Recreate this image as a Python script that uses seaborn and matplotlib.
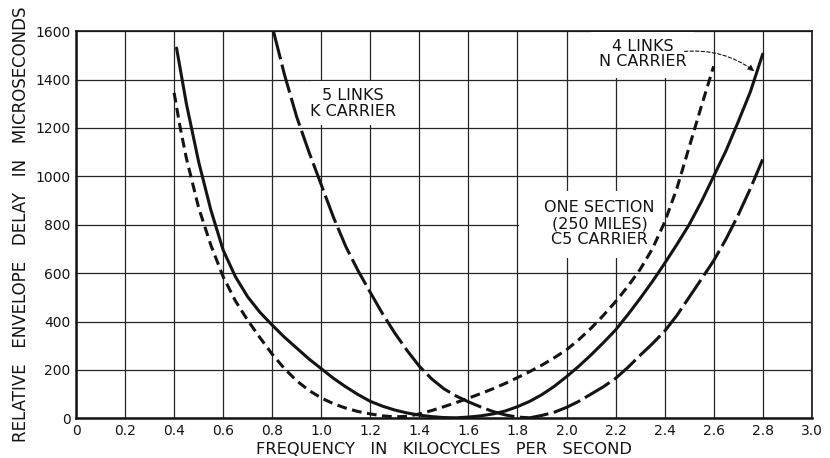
import matplotlib
matplotlib.use("Agg")
import matplotlib.pyplot as plt
import seaborn as sns
import pandas as pd
from matplotlib.patches import Rectangle

# ---- data ----
x_ticks = [0, 0.2, 0.4, 0.6, 0.8, 1.0, 1.2, 1.4, 1.6, 1.8, 2.0, 2.2, 2.4, 2.6, 2.8, 3.0]
x_tick_labels = ["0", "0.2", "0.4", "0.6", "0.8", "1.0", "1.2", "1.4", "1.6", "1.8",
                 "2.0", "2.2", "2.4", "2.6", "2.8", "3.0"]
y_ticks = [0, 200, 400, 600, 800, 1000, 1200, 1400, 1600]
y_tick_labels = ["0", "200", "400", "600", "800", "1000", "1200", "1400", "1600"]

# 4 LINKS, N CARRIER (solid)
n_freq = [0.41, 0.45, 0.5, 0.55, 0.6, 0.65, 0.7, 0.75, 0.8, 0.85, 0.9, 0.95, 1.0, 1.05,
          1.1, 1.15, 1.2, 1.25, 1.3, 1.35, 1.4, 1.45, 1.5, 1.55, 1.6, 1.65, 1.7, 1.75,
          1.8, 1.85, 1.9, 1.95, 2.0, 2.05, 2.1, 2.15, 2.2, 2.25, 2.3, 2.35, 2.4, 2.45,
          2.5, 2.55, 2.6, 2.65, 2.7, 2.75, 2.8]
n_delay = [1530, 1300, 1060, 860, 695, 585, 502, 438, 385, 335, 290, 245, 205, 165,
           130, 98, 70, 50, 34, 22, 13, 7, 3, 2, 5, 10, 18, 30,
           48, 70, 98, 132, 172, 215, 262, 312, 365, 428, 495, 565, 640, 718,
           800, 895, 1000, 1105, 1225, 1350, 1505]

# ONE SECTION (250 MILES), C5 CARRIER (short dashes)
c5_freq = [0.40, 0.425, 0.45, 0.5, 0.55, 0.6, 0.65, 0.7, 0.75, 0.8, 0.85, 0.9, 0.95,
           1.0, 1.05, 1.1, 1.15, 1.2, 1.25, 1.3, 1.35, 1.4, 1.45, 1.5, 1.55, 1.6, 1.65,
           1.7, 1.75, 1.8, 1.85, 1.9, 1.95, 2.0, 2.05, 2.1, 2.15, 2.2, 2.25, 2.3, 2.35,
           2.4, 2.45, 2.5, 2.55, 2.6]
c5_delay = [1345, 1200, 1075, 870, 715, 585, 485, 405, 333, 265, 205, 155, 115,
            84, 60, 42, 28, 18, 10, 6, 8, 18, 32, 48, 65, 83, 102,
            122, 144, 168, 193, 220, 250, 283, 325, 372, 425, 482, 545, 615, 700,
            810, 950, 1120, 1290, 1455]

# 5 LINKS, K CARRIER (long dashes)
k_freq = [0.805, 0.85, 0.9, 0.95, 1.0, 1.05, 1.1, 1.15, 1.2, 1.25, 1.3, 1.35, 1.4,
          1.45, 1.5, 1.55, 1.6, 1.65, 1.7, 1.75, 1.8, 1.85, 1.9, 1.95, 2.0, 2.05,
          2.1, 2.15, 2.2, 2.25, 2.3, 2.35, 2.4, 2.45, 2.5, 2.55, 2.6, 2.65, 2.7,
          2.75, 2.8]
k_delay = [1600, 1420, 1245, 1100, 965, 830, 710, 610, 520, 432, 352, 280, 215,
           163, 122, 92, 68, 47, 28, 14, 5, 2, 12, 25, 45, 70,
           100, 130, 165, 210, 260, 308, 360, 425, 500, 575, 651, 740, 840,
           950, 1070]

# ---- figure ----
sns.set_theme(style="white")
plt.rcParams["font.family"] = ["DejaVu Sans"]

fig = plt.figure(figsize=(8.3, 4.58), dpi=100)
ax = fig.add_axes([0.0916, 0.0867, 0.978 - 0.0916, 0.932 - 0.0867])

ink = "#141414"
ax.set_xticks(x_ticks)
ax.set_xticklabels(x_tick_labels)
ax.set_yticks(y_ticks)
ax.set_yticklabels(y_tick_labels)
ax.tick_params(axis="both", length=0, labelsize=10, colors=ink, pad=4)
ax.set_axisbelow(True)
ax.grid(True, color="#262626", linewidth=0.9)
for side, sp in ax.spines.items():
    sp.set_color(ink)
    sp.set_linewidth(1.8 if side in ("left", "bottom") else 1.2)

# white areas behind the lettering (grid interrupted there)
for (x0, y0, w, h) in [(2.1, 1406, 0.42, 190), (0.96, 1212, 0.40, 180), (1.805, 662, 0.585, 278)]:
    ax.add_patch(Rectangle((x0, y0), w, h, facecolor="white", edgecolor="none", zorder=1))

df_n = pd.DataFrame({"freq": n_freq, "delay": n_delay})
df_c5 = pd.DataFrame({"freq": c5_freq, "delay": c5_delay})
df_k = pd.DataFrame({"freq": k_freq, "delay": k_delay})

sns.lineplot(data=df_n, x="freq", y="delay", ax=ax, color=ink, linewidth=2.2, zorder=3)
sns.lineplot(data=df_c5, x="freq", y="delay", ax=ax, color=ink, linewidth=2.2, zorder=3,
             linestyle=(0, (3.2, 1.8)))
sns.lineplot(data=df_k, x="freq", y="delay", ax=ax, color=ink, linewidth=2.2, zorder=3,
             linestyle=(0, (9.5, 1.8)))

ax.set_xlim(0, 3.0)
ax.set_ylim(0, 1600)

ax.set_xlabel("FREQUENCY   IN   KILOCYCLES   PER   SECOND", fontsize=11.7, color=ink, labelpad=3)
ax.set_ylabel("RELATIVE   ENVELOPE   DELAY   IN   MICROSECONDS", fontsize=12, color=ink,
              labelpad=4)

tkw = dict(fontsize=11.5, color=ink, ha="center", va="center", linespacing=1.05, zorder=4)
ax.text(1.13, 1300, "5 LINKS\nK CARRIER", **tkw)
ax.text(2.31, 1505, "4 LINKS\nN CARRIER", **tkw)
ax.text(2.135, 805, "ONE SECTION\n(250 MILES)\nC5 CARRIER", **tkw)

ax.annotate("", xy=(2.775, 1428), xytext=(2.47, 1515),
            arrowprops=dict(arrowstyle="-|>", color=ink, linewidth=0.8, linestyle=(0, (3, 2)),
                            connectionstyle="arc3,rad=-0.2", mutation_scale=9),
            zorder=4)

fig.savefig("out.png", dpi=100, facecolor="white")
